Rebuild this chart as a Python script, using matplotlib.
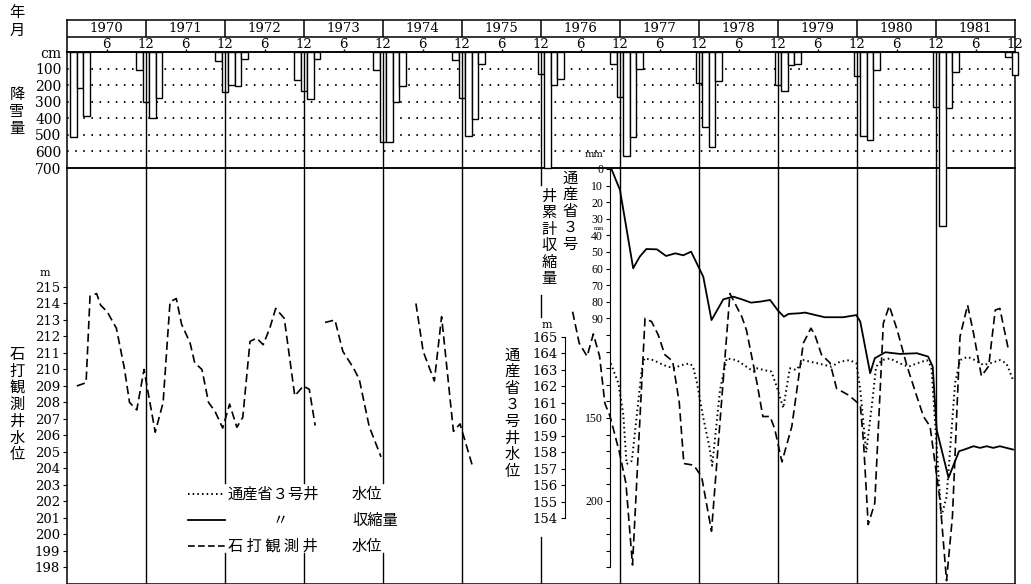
import matplotlib
matplotlib.use("Agg")
import matplotlib.pyplot as plt
from matplotlib.lines import Line2D
from matplotlib.ticker import FuncFormatter
import numpy as np

W, H = 1031, 584
JP = ['Noto Sans CJK JP', 'DejaVu Sans']
plt.rcParams['font.family'] = ['DejaVu Serif']

years = list(range(1970, 1982))

# 降雪量 (cm) ; month index: 1 = Jan 1970, 12 = Dec 1970, ...
snow_month = [1, 2, 3, 11, 12, 13, 14, 23, 24, 25, 26, 27, 35, 36, 37, 38,
              47, 48, 49, 50, 51, 59, 60, 61, 62, 63, 72, 73, 74, 75,
              83, 84, 85, 86, 87, 96, 97, 98, 99, 108, 109, 110, 111,
              120, 121, 122, 123, 132, 133, 134, 135, 143, 144]
snow_cm = [510, 220, 385, 110, 304, 400, 280, 54, 240, 200, 204, 40, 166, 234, 286, 40,
           110, 546, 546, 304, 206, 46, 276, 504, 404, 70, 134, 700, 200, 164,
           74, 274, 626, 510, 100, 186, 450, 576, 176, 200, 236, 80, 75,
           146, 504, 530, 106, 330, 1050, 340, 120, 30, 140]

# 石打観測井 水位 (m)
ishi_month = [1.5, 2.9, 3.5, 4.5, 5.1, 6.1, 7.5, 8.7, 9.5, 10.6, 11.7, 13.4, 14.6, 15.65,
              16.6, 17.4, 18.7, 19.4, 20.5, 21.5, 22.5, 23.65, 24.7, 25.8, 26.7, 27.8,
              28.8, 29.8, 30.8, 31.7, 33.0, 34.6, 35.9, 36.8, 37.7, np.nan,
              39.2, 40.7, 41.9, 43.5, 44.4, 45.9, 47.7, np.nan,
              53.0, 54.1, 55.8, 56.9, 58.7, 59.7, 61.7, np.nan,
              76.8, 77.8, 79.0, 79.95, 80.9, 81.7, 82.5, 83.9, 84.9, 85.9, 87.8, 88.8,
              89.8, 90.8, 92.0, 93.0, 93.7, 95.2, 96.4, 97.9, 100.7, 102.5, 103.2,
              104.8, 105.7, 106.8, 107.5, 108.6, 110.1, 111.85, 113.0, 113.6, 114.6,
              115.9, 116.9, 118.7, 120.5, 121.0, 121.7, 122.7, 124.0, 124.9, 126.1,
              127.6, 129.1, 130.1, 131.1, 132.6, 133.6, 134.5, 135.65, 136.8, 137.7,
              138.9, 140.0, 141.0, 141.7, 143.0]
ishi_level = [209.0, 209.2, 214.45, 214.6, 213.9, 213.5, 212.5, 210.1, 208.0, 207.55, 210.0,
              206.2, 208.0, 214.1, 214.3, 212.75, 211.6, 210.4, 210.0, 208.0, 207.45,
              206.45, 207.9, 206.5, 207.1, 211.7, 211.9, 211.5, 212.5, 213.7, 213.1,
              208.4, 209.0, 208.8, 206.6, np.nan,
              212.85, 213.0, 211.1, 210.1, 209.4, 206.55, 204.7, np.nan,
              214.0, 211.1, 209.3, 213.2, 206.25, 206.7, 204.0, np.nan,
              213.5, 211.6, 210.8, 212.15, 210.8, 207.95, 207.15, 205.0, 203.1, 198.15,
              213.1, 212.9, 212.1, 210.9, 210.5, 208.0, 204.3, 204.2, 203.5, 200.2,
              214.6, 213.2, 212.4, 209.2, 207.15, 207.15, 206.4, 204.4, 206.55, 211.6,
              212.5, 212.1, 210.9, 210.4, 208.85, 208.45, 207.85, 205.55, 200.6, 201.9,
              212.8, 213.85, 212.4, 210.2, 208.35, 207.15, 206.55, 202.1, 197.2, 201.1,
              212.0, 213.9, 212.2, 209.6, 210.2, 213.6, 213.7, 211.2]

# 通産省3号井 水位 (m)
w3_month = [82.6, 83.75, 84.5, 85.0, 85.8, 87.3, 87.7, 89.05, 90.6, 92.1, 93.4, 94.6, 95.1,
            95.7, 96.6, 97.6, 98.0, 99.2, 100.2, 101.7, 103.2, 104.3, 104.8, 105.8, 107.0,
            107.8, 108.8, 109.8, 110.8, 111.85, 112.9, 114.1, 116.1, 117.4, 118.9, 119.9,
            120.5, 121.4, 122.3, 122.9, 123.8, 125.0, 126.5, 127.8, 129.1, 130.6, 131.3,
            131.8, 132.8, 133.6, 134.9, 135.65, 136.8, 137.9, 139.2, 140.2, 141.7, 142.7,
            143.7]
w3_level = [163.4, 162.2, 160.3, 157.3, 157.5, 163.0, 163.7, 163.6, 163.3, 163.1, 163.3,
            163.4, 163.2, 162.2, 160.2, 158.3, 157.2, 161.8, 163.7, 163.6, 163.2, 162.9,
            163.1, 163.0, 162.9, 162.0, 160.7, 163.1, 163.0, 163.6, 163.5, 163.4, 163.2,
            163.5, 163.6, 163.4, 161.8, 158.0, 161.0, 163.2, 163.6, 163.7, 163.4, 163.2,
            163.4, 163.6, 163.2, 160.2, 154.1, 155.3, 162.2, 163.6, 163.8, 163.6, 163.3,
            163.4, 163.6, 163.4, 162.4]

# 通産省3号井 累計収縮量 (mm)
shr_month = [82.7, 84.0, 86.0, 87.0, 88.0, 89.6, 91.0, 92.4, 93.6, 94.8, 96.65, 97.9, 99.7,
             101.2, 102.5, 103.9, 105.3, 106.8, 108.0, 108.9, 109.6, 111.3, 112.1, 115.1,
             117.9, 119.9, 120.5, 122.0, 122.7, 124.3, 126.5, 129.1, 130.8, 131.5, 132.1,
             133.9, 135.5, 136.3, 137.7, 138.7, 139.7, 140.7, 141.7, 143.7]
shr_mm = [0, 12.7, 59.8, 52.8, 48.2, 48.4, 52.4, 50.8, 52.0, 49.8, 64.9, 91.0, 78.5,
          76.9, 78.5, 80.5, 79.9, 78.9, 85.3, 89.0, 87.3, 86.9, 86.5, 89.3,
          89.3, 88.0, 92.0, 123.0, 114.0, 110.4, 111.4, 111.0, 113.0, 119.0, 157.0,
          186.0, 170.0, 169.0, 167.0, 168.0, 167.0, 168.0, 167.0, 169.0]


def fx(x):
    return x / W


def fy(y):
    return 1 - y / H


def vtext(x, y0, s, size=11, step=16.6):
    for i, ch in enumerate(s):
        fig.text(fx(x), fy(y0 + i * step), ch, ha='center', va='center',
                 family=JP, fontsize=size)


X0, X1 = 67, 1015
fig = plt.figure(figsize=(W / 100, H / 100), dpi=100)

# ---- lower panel (石打観測井 scale)
ax_low = fig.add_axes([fx(X0), fy(584), fx(X1) - fx(X0), fy(168) - fy(584)])
ax_low.set_xlim(0, 144)
ax_low.set_ylim(197.0, 222.21)
ax_low.set_xticks([])
ax_low.set_yticks(range(198, 216))
ax_low.tick_params(axis='y', direction='out', length=3, pad=2, labelsize=9.5)
for s in ax_low.spines.values():
    s.set_linewidth(1.1)

gaps = {24: [(168, 483), (553, 584)], 36: [(168, 483), (553, 584)],
        48: [(168, 483), (553, 584)], 72: [(168, 185), (295, 317), (537, 584)]}
for k in range(12, 144, 12):
    for top, bot in gaps.get(k, [(168, 584)]):
        ax_low.axvline(k, ymin=(584 - bot) / 416, ymax=(584 - top) / 416,
                       color='black', lw=1, zorder=1)

ax_low.plot(ishi_month, ishi_level, color='black', lw=1.2,
            linestyle=(0, (5, 2.6)), zorder=3)

# 通産省3号井 水位 axis
ax_lvl = ax_low.twinx()
ax_lvl.set_ylim(197.0 - 46.97, 222.21 - 46.97)
for n in ('top', 'bottom', 'right'):
    ax_lvl.spines[n].set_visible(False)
ax_lvl.spines['left'].set_position(('axes', (565 - X0) / (X1 - X0)))
ax_lvl.spines['left'].set_bounds(154, 165)
ax_lvl.yaxis.tick_left()
ax_lvl.set_yticks(range(154, 166))
ax_lvl.tick_params(axis='y', direction='out', length=3, pad=2, labelsize=9.5)
ax_lvl.plot(w3_month, w3_level, color='black', lw=1.4, linestyle=(0, (0.8, 1.6)))

# 累計収縮量 axis
ax_shr = ax_low.twinx()
ax_shr.set_ylim(250, -0.6)
for n in ('top', 'bottom', 'right'):
    ax_shr.spines[n].set_visible(False)
ax_shr.spines['left'].set_position(('axes', (610 - X0) / (X1 - X0)))
ax_shr.spines['left'].set_bounds(0, 240)
ax_shr.yaxis.tick_left()
ax_shr.set_yticks(range(0, 250, 10))
ax_shr.yaxis.set_major_formatter(
    FuncFormatter(lambda v, p: '%d' % v if (v <= 90 or v in (150, 200)) else ''))
ax_shr.tick_params(axis='y', direction='out', length=3, pad=2, labelsize=8.5)
for lbl in ax_shr.get_yticklabels():
    lbl.set_fontfamily('Liberation Serif')
ax_shr.plot(shr_month, shr_mm, color='black', lw=1.3)

# ---- header: 年 / 月 rows
ax_head = fig.add_axes([fx(X0), fy(52), fx(X1) - fx(X0), fy(20) - fy(52)])
ax_head.set_xlim(0, 144)
ax_head.set_ylim(0, 32)
ax_head.set_xticks([])
ax_head.set_yticks([])
for s in ax_head.spines.values():
    s.set_linewidth(1.1)
ax_head.hlines(15, 0, 144, color='black', lw=1.1)
ax_head.vlines(range(12, 144, 12), 15, 32, color='black', lw=1.1)
for i, yr in enumerate(years):
    ax_head.text(12 * i + 6, 23.3, str(yr), ha='center', va='center', fontsize=9.5)
    ax_head.text(12 * i + 6, 7.5, '6', ha='center', va='center', fontsize=9.5)
    ax_head.text(12 * i + 12, 7.5, '12', ha='center', va='center', fontsize=9.5,
                 clip_on=False)
ax_head.vlines(range(6, 144, 12), 0, 3, color='black', lw=1)

# ---- snowfall panel (drawn above the lower panel so long bars show)
ax_snow = fig.add_axes([fx(X0), fy(168), fx(X1) - fx(X0), fy(52) - fy(168)])
ax_snow.set_zorder(5)
ax_snow.patch.set_visible(False)
ax_snow.set_xlim(0, 144)
ax_snow.set_ylim(700, 0)
ax_snow.hlines(range(100, 700, 100), 0, 144, colors='black', lw=1.3,
               linestyles=(0, (0.9, 3.6)), zorder=1)
ax_snow.bar(snow_month, snow_cm, width=1, color='white', edgecolor='black',
            lw=1, zorder=3, clip_on=False)
ax_snow.vlines(range(12, 144, 12), 0, 700, color='black', lw=1, zorder=4)
ax_snow.set_xticks([])
ax_snow.set_yticks(range(0, 800, 100))
ax_snow.yaxis.set_major_formatter(FuncFormatter(lambda v, p: 'cm' if v == 0 else '%d' % v))
ax_snow.tick_params(axis='y', length=0, pad=4, labelsize=10)
for s in ax_snow.spines.values():
    s.set_linewidth(1.1)

# ---- axis titles / units
fig.text(fx(17), fy(12), '年', ha='center', va='center', family=JP, fontsize=11)
fig.text(fx(17), fy(30), '月', ha='center', va='center', family=JP, fontsize=11)
vtext(17, 95, '降雪量')
vtext(17, 355, '石打観測井水位')
vtext(512, 355, '通産省３号井水位')
vtext(570, 178, '通産省３号')
vtext(549, 196, '井累計収縮量')
fig.text(fx(45), fy(273), 'm', ha='center', va='center', fontsize=8)
fig.text(fx(547), fy(325), 'm', ha='center', va='center', fontsize=8)
fig.text(fx(594), fy(154), 'mm', ha='center', va='center', fontsize=7)
fig.text(fx(599), fy(228), 'mm', ha='center', va='center', fontsize=4)

# ---- legend
leg_rows = [(494, (0, (0.8, 1.6)), 1.4, '通産省３号井', '水位'),
            (520, '-', 1.3, '〃', '収縮量'),
            (546, (0, (4, 2)), 1.2, '石 打 観 測 井', '水位')]
for y, ls, lw, name, what in leg_rows:
    fig.add_artist(Line2D([fx(188), fx(225)], [fy(y), fy(y)], color='black',
                          lw=lw, linestyle=ls))
    if name == '〃':
        fig.text(fx(280), fy(y), name, ha='center', va='center', family=JP, fontsize=11)
    else:
        fig.text(fx(228), fy(y), name, ha='left', va='center', family=JP, fontsize=11)
    fig.text(fx(352), fy(y), what, ha='left', va='center', family=JP, fontsize=11)

fig.savefig('out.png', dpi=100)
